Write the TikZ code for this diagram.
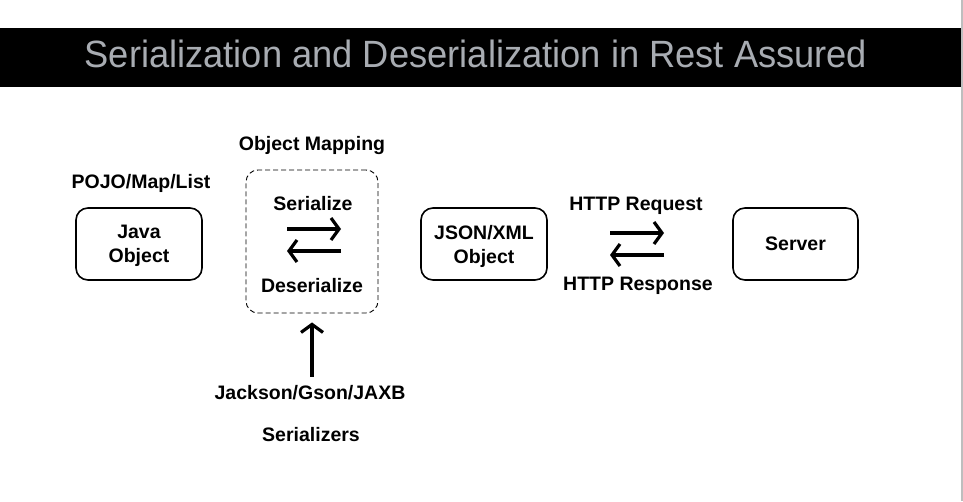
\documentclass[tikz,border=0pt]{standalone}
\usepackage{fontspec}
\setmainfont{Liberation Sans}
\usepackage{xcolor}
\usetikzlibrary{arrows.meta,positioning}
\definecolor{titlegray}{RGB}{168,172,178}
\definecolor{edgegray}{RGB}{190,190,190}

\begin{document}
\begin{tikzpicture}[x=1pt,y=-1pt,
      box/.style={draw, line width=1.6pt, rounded corners=12pt, minimum width=126pt,
      minimum height=72pt, align=center, text depth=0pt, font=\fontsize{19.5}{24}\selectfont\bfseries},
      lbl/.style={font=\fontsize{19.5}{24}\selectfont\bfseries, inner sep=0pt},
      flow/.style={line width=3.2pt, -{Straight Barb[length=8pt,width=22pt]}},
      >=Stealth]
    \useasboundingbox (0,0) rectangle (963,501);
    \fill[white] (0,0) rectangle (963,501);
    \fill[black] (0,28) rectangle (961,87);
    \draw[edgegray, line width=1.5pt] (962,0) -- (962,501);
    \node[text=titlegray, font=\fontsize{38}{40}\selectfont, inner sep=0pt] (title) at (476,54)
      {\scalebox{0.955}[1]{Serialization and Deserialization in Rest Assured}};
    % boxes
    \node[box] (java) at (139,244) {Java\\Object};
    \node[box, dash pattern=on 5pt off 3pt, line width=0.9pt, minimum width=132pt, minimum height=143pt] (mapbox) at (312,241.5) {};
    \node[box] (json) at (484,244) {JSON/XML\\Object};
    \node[box, minimum width=125pt] (server) at (795.5,244) {Server};
    % labels
    \node[lbl] (pojo) at (141,183) {POJO/Map/List};
    \node[lbl] (mapping) at (312,145) {Object Mapping};
    \node[lbl] (ser) at (313,204) {Serialize};
    \node[lbl] (deser) at (312,286) {Deserialize};
    \node[lbl] (req) at (636,206) {HTTP Request};
    \node[lbl] (resp) at (638,286) {HTTP Response};
    \node[lbl] (libs) at (310,393) {Jackson/Gson/JAXB};
    \node[lbl] (sers) at (311,435) {Serializers};
    % arrow ends
    \coordinate (s1) at (287,229);
    \coordinate (s2) at (341,229);
    \coordinate (d1) at (341,251);
    \coordinate (d2) at (287,251);
    \coordinate (r1) at (610,233);
    \coordinate (r2) at (664,233);
    \coordinate (p1) at (664,255);
    \coordinate (p2) at (610,255);
    \draw[flow] (s1)--(s2);
    \draw[flow] (d1)--(d2);
    \draw[flow] (r1)--(r2);
    \draw[flow] (p1)--(p2);
    \draw[flow, shorten <=9pt, shorten >=9pt] (libs.north -| mapbox.south) -- (mapbox.south);
  \end{tikzpicture}
\end{document}
